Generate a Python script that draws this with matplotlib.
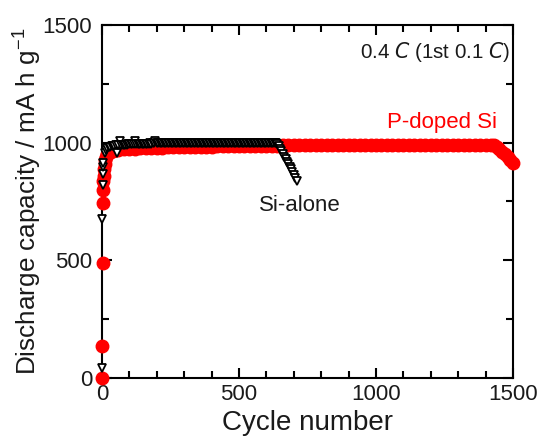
import matplotlib
matplotlib.use("Agg")
import matplotlib.pyplot as plt
from matplotlib.ticker import MultipleLocator

plt.rcParams['font.family'] = ['Liberation Sans', 'DejaVu Sans']

# P-doped Si (red circles)
p_cycles = [0, 1, 2, 3, 4, 5, 6, 8, 10, 12, 15, 20, 25, 30, 40, 50, 60, 80,
            100, 120, 140, 160, 180, 200, 220, 240, 260, 280, 300, 320, 340, 360, 380,
            400, 420, 440, 460, 480, 500, 520, 540, 560, 580, 600, 620, 640, 660, 680,
            700, 720, 740, 760, 780, 800, 820, 840, 860, 880, 900, 920, 940, 960, 980,
            1000, 1020, 1040, 1060, 1080, 1100, 1120, 1140, 1160, 1180, 1200, 1220,
            1240, 1260, 1280, 1300, 1320, 1340, 1360, 1380, 1400, 1420, 1430, 1440,
            1450, 1460, 1470, 1480, 1490, 1500]
p_capacity = [0, 136, 489, 744, 799, 835, 860, 890, 910, 925, 938, 950, 956, 960, 965, 968, 970, 972,
              974, 975, 976, 977, 978, 978, 979, 980, 980, 981, 981, 982, 982, 983, 983,
              983, 984, 984, 984, 985, 985, 985, 986, 985, 986, 986, 987, 987, 988, 989,
              990, 991, 990, 991, 990, 991, 991, 990, 991, 992, 991, 990, 991, 992, 991,
              991, 992, 991, 990, 991, 992, 991, 992, 991, 990, 991, 992,
              991, 990, 991, 992, 991, 991, 992, 991, 990, 990, 988, 982,
              972, 962, 951, 940, 928, 915]

# Si-alone (open down triangles)
s_cycles = [0, 1, 2, 3, 4] + list(range(5, 715, 5))
s_capacity = [42, 676, 820, 867, 895,
              915, 955, 970, 976, 980, 983, 985, 986, 987, 988,
              956, 989, 1008, 990, 991, 991, 992, 992, 993, 993,
              993, 994, 994, 1006, 994, 995, 995, 995, 995, 996,
              996, 996, 996, 996, 997, 996, 997, 997, 1007, 997,
              997, 997, 997, 997, 997, 998, 997, 998, 998, 998,
              998, 998, 998, 998, 998, 998, 998, 998, 998, 998,
              998, 998, 998, 998, 998, 998, 998, 998, 998, 998,
              998, 998, 998, 999, 998, 998, 998, 998, 998, 998,
              998, 998, 998, 998, 998, 998, 998, 998, 998, 998,
              998, 998, 998, 998, 998, 998, 998, 998, 998, 998,
              998, 998, 998, 998, 998, 998, 998, 998, 998, 998,
              998, 998, 998, 998, 998, 998, 998, 998, 998, 998,
              998, 998, 998, 998, 998, 998, 998, 995, 985, 974,
              963, 952, 941, 930, 919, 908, 897, 886, 875, 862,
              849, 836]

fig = plt.figure(figsize=(5.39, 4.36), dpi=100)
ax = fig.add_axes([102/539, 58/436, 411/539, 353/436])

ax.plot(p_cycles, p_capacity, linestyle='none', marker='o', markersize=9,
        color='#ff0000', markeredgecolor='#ff0000', zorder=3, clip_on=False)
ax.plot(s_cycles, s_capacity, linestyle='none', marker='v', markersize=5.5,
        markerfacecolor='white', markeredgecolor='black', markeredgewidth=1.3,
        zorder=4, clip_on=False)

ax.set_xlim(0, 1500)
ax.set_ylim(0, 1500)
ax.xaxis.set_major_locator(MultipleLocator(500))
ax.xaxis.set_minor_locator(MultipleLocator(100))
ax.yaxis.set_major_locator(MultipleLocator(500))
ax.yaxis.set_minor_locator(MultipleLocator(250))
ax.tick_params(which='both', direction='in', top=True, right=True, width=1.5,
               labelsize=16, colors='black', labelcolor='#1a1a1a')
ax.tick_params(axis='x', which='both', pad=4)
ax.tick_params(axis='y', which='both', pad=7)
ax.tick_params(which='major', length=7)
ax.tick_params(which='minor', length=5)
for s in ax.spines.values():
    s.set_linewidth(1.5)
    s.set_zorder(2)

ax.set_xlabel('Cycle number', fontsize=20, labelpad=4, color='#1a1a1a')
ax.set_ylabel('Discharge capacity / mA h g$^{\\mathregular{-1}}$', fontsize=18.8,
              labelpad=0, color='#1a1a1a')

ax.text(0.993, 0.958, r'0.4 $\it{C}$ (1st 0.1 $\it{C}$)', transform=ax.transAxes,
        ha='right', va='top', fontsize=14.8, color='#1a1a1a')
ax.text(1441, 1040, 'P-doped Si', color='#ff0000', ha='right', va='bottom', fontsize=16)
ax.text(722, 778, 'Si-alone', color='#1a1a1a', ha='center', va='top', fontsize=16)

fig.savefig('out.png', dpi=100)
